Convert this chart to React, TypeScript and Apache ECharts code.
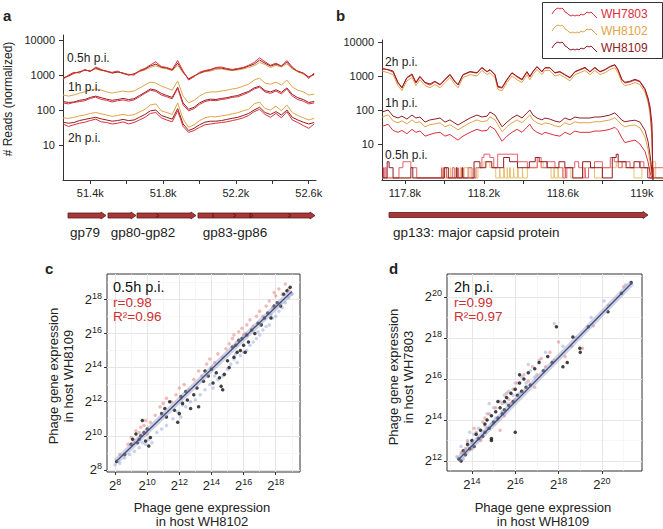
import React, { useEffect, useRef } from "react";
import * as echarts from "echarts";

const FONT = '"Liberation Sans", Arial, Helvetica, sans-serif';
const RED = "#dc2f3b";
const GOLD = "#dfa447";
const DARK = "#8e1d25";
const TEXT = "#222";
const STAT = "#cf3035";

// ---------- panel a: coverage around gp79-gp86 ----------
const posA = [51250,51280,51310,51340,51370,51400,51430,51460,51490,51520,51550,51580,51610,51640,51670,51700,51730,51760,51790,51820,51850,51880,51910,51940,51970,52000,52030,52060,52090,52120,52150,52180,52210,52240,52270,52300,52330,52360,52390,52420,52450,52480,52510,52540,52570,52600,52630];
const a05_WH7803 = [760,1000,1200,1150,1450,1250,1700,1450,1250,1200,1300,1100,1050,1000,1350,1550,1950,2400,1750,1650,1450,2600,1300,720,900,1200,1350,1450,1650,1700,1550,1450,1550,1650,1900,2300,3100,2400,1900,2200,1800,2600,1700,1250,1150,800,1150];
const a05_WH8102 = [850,920,1100,1250,1350,1350,1500,1350,1300,1150,1200,1150,1000,1100,1250,1400,1650,1850,1600,1500,1350,1900,1150,800,950,1100,1250,1300,1450,1500,1400,1350,1400,1500,1650,1850,2300,2000,1650,1900,1700,2100,1500,1250,1050,900,1000];
const a05_WH8109 = [820,940,1140,1230,1390,1300,1590,1390,1300,1140,1230,1140,1000,1070,1300,1480,1810,2060,1690,1590,1390,2190,1230,770,940,1140,1300,1390,1590,1590,1480,1390,1480,1590,1810,2060,2680,2190,1810,2060,1810,2350,1590,1300,1140,870,1070];
const a1_WH7803 = [160,150,165,175,185,215,235,200,190,170,185,195,180,195,240,300,370,340,270,240,210,420,140,95,110,145,175,190,185,200,210,230,240,275,320,400,450,330,300,350,290,400,250,200,180,150,160];
const a1_WH8102 = [270,250,270,305,330,370,400,370,330,305,330,350,330,350,425,520,630,590,485,425,370,680,250,160,190,250,305,330,330,350,370,400,425,485,550,720,820,590,550,630,520,720,455,370,330,270,285];
const a1_WH8109 = [175,165,170,190,200,230,250,225,205,190,200,215,200,210,260,320,400,370,300,260,230,450,160,105,120,160,190,205,200,215,225,245,260,300,340,430,480,360,330,380,320,430,280,225,200,165,175];
const a2_WH7803 = [40,34,38,42,45,50,55,46,44,40,42,46,40,44,52,62,80,85,60,52,46,95,34,23,26,32,38,40,42,44,46,50,54,60,70,90,105,75,62,80,60,90,52,44,36,30,40];
const a2_WH8102 = [60,58,62,68,72,80,85,78,72,66,70,75,70,74,88,105,140,150,95,85,75,160,55,32,38,50,60,65,64,68,72,78,84,95,105,150,170,110,100,130,95,140,85,70,60,52,58];
const a2_WH8109 = [45,42,44,50,54,58,62,56,52,48,50,54,50,52,62,75,95,100,70,62,55,110,40,26,30,38,45,48,48,50,54,58,62,70,80,100,120,85,75,90,72,100,62,52,45,40,44];

// ---------- panel b: coverage over gp133 ----------
const posB = [117685,117715,117740,117765,117785,117810,117836,117856,117876,117902,117927,117952,117978,118003,118028,118053,118069,118094,118130,118165,118190,118216,118231,118256,118271,118292,118317,118342,118368,118393,118418,118433,118448,118469,118494,118509,118534,118560,118585,118610,118636,118661,118686,118712,118737,118762,118788,118813,118838,118863,118879,118899,118914,118940,118965,118990,119016,119031,119041,119051,119056];
const b2_WH7803 = [1720,1500,1310,620,440,870,1070,620,930,620,540,670,540,760,1070,670,540,1070,1310,1220,1720,1310,1500,1070,470,440,760,1220,930,760,1310,930,1310,1840,1310,1720,1720,1220,1310,1070,870,1310,1500,1720,1310,1720,1310,1500,1840,2100,1500,760,620,670,760,670,390,200,100,21,0.9];
const b2_WH8102 = [1400,1250,1100,520,370,720,900,520,780,520,450,560,450,640,900,560,450,900,1100,1000,1450,1100,1250,900,400,370,640,1000,780,640,1100,780,1100,1550,1100,1450,1450,1000,1100,900,720,1100,1250,1450,1100,1450,1100,1250,1550,1750,1250,640,520,560,640,560,330,170,80,15,0.9];
const b2_WH8109 = [1600,1550,1400,650,460,900,1150,650,980,650,580,700,560,800,1120,700,560,1100,1350,1250,1800,1350,1550,1100,500,460,800,1250,980,800,1350,980,1350,1900,1350,1750,1750,1250,1350,1100,900,1350,1550,1800,1350,1800,1350,1550,1900,2150,1550,800,650,700,800,700,420,230,130,40,0.9];
const b1_WH7803 = [33,38,25,22,25,20,27,22,24,17,19,21,22,17,19,15,13,17,22,27,24,25,33,27,19,12,17,22,27,22,31,38,27,22,19,22,20,18,17,22,19,24,22,22,22,24,24,25,27,31,25,15,11,12,13,10,6,3,1.5,1,0.9];
const b1_WH8102 = [62,72,48,42,48,39,51,42,45,32,37,39,42,32,37,30,26,32,42,51,45,48,63,51,37,23,32,42,51,42,59,72,51,42,37,42,39,34,32,42,37,45,42,42,42,45,45,48,51,59,48,36,32,35,36,30,16,7,3,1.2,0.9];
const b1_WH8109 = [87,100,66,58,66,54,71,58,62,44,51,54,58,44,51,41,36,44,58,71,62,66,87,71,51,32,44,58,71,58,82,100,71,58,51,58,54,47,44,58,51,62,58,58,58,62,62,66,71,82,66,50,45,48,50,44,25,12,5,1.5,0.9];
const b05_WH7803 = [[117684,2],[117692,1],[117698,2],[117704,1],[117770,2],[117790,3],[117830,2],[117860,1],[117985,2],[117988,1],[117995,2],[118010,1],[118040,2],[118050,1],[118070,2],[118073,1],[118090,2],[118093,1],[118120,2],[118140,1],[118160,2],[118190,4],[118200,5],[118230,4],[118250,2],[118270,5],[118370,3],[118420,2],[118470,4],[118490,2],[118520,3],[118560,2],[118600,1],[118612,2],[118615,1],[118620,2],[118660,3],[118680,2],[118700,1],[118712,2],[118715,1],[118730,2],[118760,3],[118800,2],[118840,4],[118860,3],[118880,2],[118900,3],[118940,2],[118990,3],[119010,2],[119040,1],[119060,2],[119107,2]];
const b05_WH8102 = [[117684,1],[117990,2],[117993,1],[118010,2],[118013,1],[118030,2],[118033,1],[118060,2],[118064,1],[118080,2],[118084,1],[118100,2],[118130,1],[118150,2],[118154,1],[118170,2],[118200,3],[118230,2],[118260,1],[118280,2],[118283,1],[118300,2],[118304,1],[118318,2],[118321,1],[118330,2],[118334,1],[118350,2],[118353,1],[118370,2],[118374,1],[118395,2],[118398,1],[118420,2],[118470,3],[118500,2],[118540,1],[118555,2],[118558,1],[118575,2],[118578,1],[118600,2],[118640,1],[118700,2],[118760,1],[118800,2],[118870,3],[118900,2],[118960,1],[119000,2],[119050,3],[119070,1],[119107,1]];
const b05_WH8109 = [[117684,2],[117688,1],[117710,3],[117720,2],[117740,1],[117830,2],[117840,1],[118000,2],[118020,1],[118060,2],[118064,1],[118090,2],[118094,1],[118150,3],[118180,2],[118210,3],[118240,2],[118300,4],[118330,3],[118370,2],[118430,3],[118460,4],[118480,3],[118520,2],[118580,3],[118610,2],[118650,1],[118700,3],[118740,2],[118800,1],[118850,4],[118870,5],[118880,3],[118920,2],[118960,3],[118990,2],[119030,1],[119107,1]];

// ---------- panel c: log2 expression, WH8102 (x) vs WH8109 (y), 0.5h ----------
const cBlack = [[8.1,8.5],[8.6,8.9],[9.0,9.5],[9.1,9.8],[9.3,10.1],[9.4,9.6],[9.5,9.8],[9.6,10.0],[9.7,10.9],[9.8,10.2],[9.9,9.7],[10.0,10.4],[10.1,9.4],[10.2,9.9],[10.9,11.3],[11.1,11.6],[11.2,11.1],[11.4,12.0],[11.7,11.5],[11.9,10.8],[12.0,11.3],[12.1,12.3],[12.2,11.9],[12.4,12.6],[12.5,12.1],[12.7,11.6],[12.9,12.4],[13.1,12.8],[13.2,11.7],[13.5,13.2],[13.6,13.8],[13.8,13.5],[14.0,13.9],[14.1,13.1],[14.3,13.7],[14.5,13.4],[14.6,12.9],[14.7,12.7],[14.8,13.6],[15.0,14.4],[15.1,14.0],[15.3,15.2],[15.4,14.6],[15.5,15.3],[15.6,14.9],[15.7,15.6],[15.8,15.0],[15.9,15.7],[16.0,15.3],[16.1,14.9],[16.2,15.9],[16.3,15.5],[16.5,16.2],[16.7,16.0],[16.9,16.6],[17.1,16.5],[17.3,16.9],[17.5,17.2],[17.7,16.9],[17.9,17.6],[18.1,17.8],[18.3,17.6],[18.5,18.3],[18.7,18.5],[18.9,18.7]];
const cRed = [[8.3,8.9],[8.8,9.5],[9.0,9.9],[9.2,9.6],[9.3,10.3],[9.5,10.2],[9.6,10.5],[9.8,10.6],[10.0,10.1],[10.2,10.8],[10.5,11.2],[10.8,11.7],[11.2,12.2],[11.5,12.0],[11.8,12.4],[12.0,12.8],[12.3,13.0],[12.6,12.7],[12.9,13.3],[13.2,13.8],[13.4,13.5],[13.7,14.2],[13.9,14.5],[14.2,14.3],[14.4,14.8],[14.7,14.6],[14.9,15.1],[15.1,15.4],[15.3,15.7],[15.4,15.9],[15.6,15.5],[15.7,16.1],[15.9,16.3],[16.0,15.9],[16.2,16.5],[16.4,16.8],[16.6,16.4],[16.8,17.0],[17.0,17.3],[17.2,17.0],[17.4,17.6],[17.6,17.9],[17.8,17.5],[18.0,18.2],[18.2,18.6],[18.4,18.3],[18.6,18.9],[18.8,18.6],[12.1,12.2],[14.0,14.0],[16.1,16.0],[9.9,10.9],[11.0,11.9],[17.9,18.4]];
const cBlue = [[8.0,8.3],[8.3,8.4],[8.6,8.7],[8.9,8.9],[9.2,9.1],[9.5,9.3],[9.7,9.6],[9.9,9.5],[10.1,9.8],[10.3,9.6],[10.6,10.2],[10.9,10.4],[11.2,10.6],[11.6,11.0],[11.9,11.4],[12.1,11.1],[12.4,11.7],[12.7,12.0],[13.0,12.1],[13.3,12.4],[13.6,12.7],[13.9,13.0],[14.1,12.8],[14.4,13.3],[14.7,13.5],[15.0,13.9],[15.2,14.2],[15.4,14.5],[15.6,14.3],[15.8,14.7],[16.0,14.9],[16.2,15.0],[16.4,15.3],[16.6,15.5],[16.8,15.7],[17.0,15.9],[17.2,16.2],[17.4,16.4],[17.6,16.5],[17.8,16.9],[18.0,17.0],[18.2,17.3],[18.4,17.5],[18.6,17.8],[18.8,18.1],[19.0,18.3],[15.5,14.8],[16.9,16.1],[14.2,13.5],[12.2,11.8],[17.7,17.1],[18.3,17.8]];
const cFitX = [8.07, 19.0];
const cFitY = [8.5, 18.45];

// ---------- panel d: log2 expression, WH8109 (x) vs WH7803 (y), 2h ----------
const dBlack = [[13.4,12.1],[13.6,12.5],[13.7,12.3],[13.8,12.8],[13.9,12.6],[14.0,13.0],[14.1,12.7],[14.2,13.3],[14.3,13.1],[14.4,13.5],[14.5,13.2],[14.6,13.8],[14.6,13.4],[14.7,14.0],[14.8,13.6],[14.9,14.2],[14.9,13.1],[15.0,13.9],[15.1,14.4],[15.2,14.1],[15.3,14.6],[15.4,14.3],[15.5,14.9],[15.5,14.5],[15.6,15.1],[15.7,14.7],[15.8,15.3],[15.9,14.9],[16.0,15.5],[16.0,13.4],[16.1,15.2],[16.2,15.8],[16.3,15.4],[16.4,16.0],[16.5,15.6],[16.6,16.3],[16.7,15.7],[16.9,16.5],[17.1,16.8],[17.3,16.4],[17.5,17.1],[17.7,16.8],[17.9,18.55],[18.2,16.6],[18.4,16.8],[18.66,18.05],[18.98,17.5],[19.0,17.3],[19.37,18.55],[20.28,19.28],[20.9,20.18],[21.35,20.7],[14.9,13.0],[15.2,14.9],[16.2,16.2],[13.5,12.0]];
const dRed = [[13.5,12.4],[13.8,12.9],[14.0,12.6],[14.2,13.4],[14.4,13.0],[14.5,13.9],[14.7,13.6],[14.8,14.3],[15.0,13.8],[15.1,14.6],[15.2,14.0],[15.4,14.8],[15.5,14.2],[15.6,15.3],[15.8,14.8],[15.9,15.5],[16.0,15.0],[16.1,15.8],[16.3,15.4],[16.4,16.2],[16.6,15.9],[16.8,16.6],[17.0,16.2],[17.2,17.0],[17.4,16.6],[17.6,17.3],[17.8,16.9],[18.0,17.8],[18.3,17.1],[18.6,17.6],[19.1,17.5],[19.6,18.6],[20.3,19.6],[21.0,20.5],[14.1,13.6],[15.3,13.5],[14.6,14.1],[16.9,15.6],[13.7,12.6],[15.7,15.0]];
const dBlue = [[13.3,12.2],[13.5,12.7],[13.6,12.1],[13.8,13.0],[14.0,12.9],[14.1,13.3],[14.3,13.6],[14.4,13.1],[14.6,13.7],[14.7,14.3],[14.9,13.8],[15.0,14.6],[15.1,14.1],[15.3,14.9],[15.4,14.4],[15.6,14.8],[15.7,15.4],[15.9,15.2],[16.0,15.8],[16.2,15.3],[16.3,16.1],[16.5,15.8],[16.7,16.4],[16.9,16.1],[17.1,16.9],[17.4,17.3],[17.8,18.7],[18.2,17.6],[18.8,18.0],[19.5,19.0],[20.1,19.8],[21.1,20.6],[13.9,13.4],[15.5,15.2],[14.8,14.8],[16.6,16.7]];
const dFitX = [13.36, 21.38];
const dFitY = [12.05, 20.68];

// ---------- ticks ----------
const tickA = [51400,51600,51800,52000,52200,52400,52600];
const labelA = [51400,51800,52200,52600];
const tickB = [117800,118000,118200,118400,118600,118800,119000];
const labelB = [117800,118200,118600,119000];
const readTicks = [10,100,1000,10000];
const cMajor = [8,10,12,14,16,18];
const cMinor = [9,11,13,15,17,19];
const dMajorX = [14,16,18,20];
const dMinorX = [13,15,17,19,21];
const dMajorY = [12,14,16,18,20];
const dMinorY = [13,15,17,19,21];

const axisLineStyle = { color: "#333", width: 1 };

function trace(name: string, pos: number[], vals: number[], color: string, idx: number) {
  return {
    type: "line", name, xAxisIndex: idx, yAxisIndex: idx,
    data: pos.map((p, i) => [p, vals[i]]),
    showSymbol: false, symbol: "none", silent: true,
    lineStyle: { color, width: 1 }, itemStyle: { color },
  };
}
function stepTrace(name: string, data: number[][], color: string) {
  return {
    type: "line", name, xAxisIndex: 1, yAxisIndex: 1, step: "end", data,
    showSymbol: false, symbol: "none", silent: true,
    lineStyle: { color, width: 1 }, itemStyle: { color },
  };
}
function dots(data: number[][], color: string, size: number, idx: number) {
  return { type: "scatter", xAxisIndex: idx, yAxisIndex: idx, data, symbolSize: size, silent: true,
    itemStyle: { color }, z: 3 };
}
function fit(xs: number[], ys: number[], idx: number) {
  const data = xs.map((x, i) => [x, ys[i]]);
  return [
    { type: "line", xAxisIndex: idx, yAxisIndex: idx, data, symbol: "none", silent: true, z: 4,
      lineStyle: { color: "rgba(150,158,185,0.45)", width: 6 } },
    { type: "line", xAxisIndex: idx, yAxisIndex: idx, data, symbol: "none", silent: true, z: 5,
      lineStyle: { color: "#3e4c8a", width: 1.3 } },
  ];
}

const pow2 = (v: number) => `{b|2}{s|${Math.round(v)}}`;
const rich = {
  b: { fontSize: 13, color: TEXT, fontFamily: FONT, lineHeight: 16 },
  s: { fontSize: 9, color: TEXT, fontFamily: FONT, lineHeight: 8, verticalAlign: "top" },
};

function genomeX(grid: number, min: number, max: number, ticks: number[], labels: number[]) {
  return {
    gridIndex: grid, type: "value", min, max,
    axisLine: { show: true, onZero: false, lineStyle: axisLineStyle },
    axisTick: { show: true, length: 4, customValues: ticks, lineStyle: axisLineStyle },
    axisLabel: { customValues: labels, formatter: (v: number) => `${v / 1000}k`, fontSize: 11, color: TEXT, fontFamily: FONT, margin: 7 },
    splitLine: { show: false },
  };
}
function readsY(grid: number, min: number, max: number) {
  return {
    gridIndex: grid, type: "log", logBase: 10, min, max,
    axisLine: { show: true, onZero: false, lineStyle: axisLineStyle },
    axisTick: { show: true, length: 4, customValues: readTicks, lineStyle: axisLineStyle },
    axisLabel: { customValues: readTicks, formatter: (v: number) => String(Math.round(v)), fontSize: 11, color: TEXT, fontFamily: FONT, margin: 8 },
    splitLine: { show: false }, minorTick: { show: false },
  };
}
function expMajor(grid: number, min: number, max: number, ticks: number[]) {
  return {
    gridIndex: grid, type: "value", min, max,
    axisLine: { show: false, onZero: false },
    axisTick: { show: true, length: 3, customValues: ticks, lineStyle: axisLineStyle },
    axisLabel: { customValues: ticks, formatter: pow2, rich, margin: 5 },
    splitLine: { show: true, lineStyle: { color: "#e6e6e6", width: 1 } },
  };
}
function expMinor(grid: number, min: number, max: number, ticks: number[]) {
  return {
    gridIndex: grid, type: "value", min, max,
    axisLine: { show: false, onZero: false },
    axisTick: { show: false, customValues: ticks },
    axisLabel: { show: false },
    splitLine: { show: true, lineStyle: { color: "#f2f2f2", width: 0.6 } },
  };
}

function text(x: number, y: number, t: string, o: any = {}) {
  return {
    type: "text", x, y, silent: true, rotation: o.rotation || 0, z: 50,
    style: {
      text: t, fill: o.fill || TEXT, fontSize: o.fontSize || 12, fontFamily: FONT,
      fontWeight: o.fontWeight || "normal", textAlign: o.align || "left", textVerticalAlign: "middle",
    },
  };
}
function arrow(x0: number, x1: number, yc: number) {
  return {
    type: "polygon", silent: true,
    shape: { points: [[x0, yc - 2.5], [x1 - 5, yc - 2.5], [x1 - 5, yc - 3.5], [x1, yc], [x1 - 5, yc + 3.5], [x1 - 5, yc + 2.5], [x0, yc + 2.5]] },
    style: { fill: "#a83838", stroke: "#5e1a1a", lineWidth: 0.8 },
  };
}
function mark(points: number[][]) {
  return { type: "polyline", silent: true, shape: { points }, style: { stroke: "#4a1010", lineWidth: 0.8, fill: "none" } };
}
function wiggle(x: number, y: number, color: string) {
  const pts = [[0,1],[2,-2],[4,-4],[6,-5],[8,-4],[10,-5],[12,-3],[13,-1],[15,0],[17,2],[19,3],[21,2],[23,3],[25,2],[27,3],[29,1],[31,2],[33,1],[35,-1],[37,0],[39,-1],[41,1],[43,3],[45,5]];
  return { type: "polyline", silent: true, shape: { points: pts.map(([dx, dy]) => [x + dx, y + dy]) }, style: { stroke: color, lineWidth: 1, fill: "none" } };
}

function buildOption() {
  const series: any[] = [
    trace("WH8102", posA, a2_WH8102, GOLD, 0), trace("WH8109", posA, a2_WH8109, DARK, 0), trace("WH7803", posA, a2_WH7803, RED, 0),
    trace("WH8102", posA, a1_WH8102, GOLD, 0), trace("WH8109", posA, a1_WH8109, DARK, 0), trace("WH7803", posA, a1_WH7803, RED, 0),
    trace("WH8102", posA, a05_WH8102, GOLD, 0), trace("WH8109", posA, a05_WH8109, DARK, 0), trace("WH7803", posA, a05_WH7803, RED, 0),
    stepTrace("WH8102", b05_WH8102, "#e8c070"), stepTrace("WH7803", b05_WH7803, "#e2606a"), stepTrace("WH8109", b05_WH8109, DARK),
    trace("WH7803", posB, b1_WH7803, RED, 1), trace("WH8102", posB, b1_WH8102, GOLD, 1), trace("WH8109", posB, b1_WH8109, DARK, 1),
    trace("WH8102", posB, b2_WH8102, GOLD, 1), trace("WH7803", posB, b2_WH7803, RED, 1), trace("WH8109", posB, b2_WH8109, DARK, 1),
    dots(cBlue, "rgba(140,160,215,0.6)", 3.5, 2), dots(cRed, "rgba(232,110,110,0.6)", 3.5, 2), dots(cBlack, "#111", 3.5, 2),
    ...fit(cFitX, cFitY, 2),
    dots(dBlue, "rgba(140,160,215,0.6)", 3.5, 4), dots(dRed, "rgba(232,110,110,0.6)", 3.5, 4), dots(dBlack, "#111", 3.5, 4),
    ...fit(dFitX, dFitY, 4),
  ];

  const graphic: any[] = [
    text(3, 15, "a", { fontSize: 15, fontWeight: "bold" }),
    text(336, 15, "b", { fontSize: 15, fontWeight: "bold" }),
    text(45, 268, "c", { fontSize: 15, fontWeight: "bold" }),
    text(389, 268, "d", { fontSize: 15, fontWeight: "bold" }),
    text(8, 99, "# Reads (normalized)", { rotation: Math.PI / 2, align: "center" }),
    text(67, 58, "0.5h p.i."), text(68, 87, "1h p.i."), text(68, 138, "2h p.i."),
    text(385, 62, "2h p.i."), text(385, 103, "1h p.i."), text(385, 155, "0.5h p.i."),
    // legend
    { type: "rect", silent: true, shape: { x: 542.5, y: 2.5, width: 120, height: 56 }, style: { fill: "#fff", stroke: "#333", lineWidth: 1 } },
    wiggle(552, 13, RED), wiggle(552, 30, GOLD), wiggle(552, 47, DARK),
    text(601, 14, "WH7803", { fill: RED }), text(601, 31, "WH8102", { fill: GOLD }), text(601, 48, "WH8109", { fill: DARK }),
    // gene arrows
    arrow(68, 106, 215.5), arrow(108, 136, 215.5), arrow(137, 196, 215.5), arrow(198, 315, 215.5),
    mark([[156, 213.5], [159, 215.5], [156, 217.5]]), mark([[213, 213], [213, 218]]),
    mark([[233, 213.5], [236, 215.5], [233, 217.5]]), mark([[250, 213], [250, 218], [253, 215.5], [250, 213]]),
    mark([[288, 213.5], [291, 215.5], [288, 217.5]]),
    arrow(389, 648, 215),
    text(85, 232, "gp79", { align: "center", fontSize: 13.5 }),
    text(143, 232, "gp80-gp82", { align: "center", fontSize: 13.5 }),
    text(235, 232, "gp83-gp86", { align: "center", fontSize: 13.5 }),
    text(393, 232, "gp133: major capsid protein", { fontSize: 13.5 }),
    // scatter annotations
    text(113, 287, "0.5h p.i.", { fontSize: 14.5, fill: "#111" }),
    text(113, 302, "r=0.98", { fontSize: 13.5, fill: STAT }),
    text(113, 316, "R²=0.96", { fontSize: 13.5, fill: STAT }),
    text(454, 287, "2h p.i.", { fontSize: 14.5, fill: "#111" }),
    text(454, 302, "r=0.99", { fontSize: 13.5, fill: STAT }),
    text(454, 316, "R²=0.97", { fontSize: 13.5, fill: STAT }),
    // axis titles
    text(202, 507, "Phage gene expression", { align: "center", fontSize: 13 }),
    text(202, 521, "in host WH8102", { align: "center", fontSize: 13 }),
    text(543, 507, "Phage gene expression", { align: "center", fontSize: 13 }),
    text(543, 521, "in host WH8109", { align: "center", fontSize: 13 }),
    text(53, 376, "Phage gene expression", { align: "center", fontSize: 13, rotation: Math.PI / 2 }),
    text(68, 376, "in host WH8109", { align: "center", fontSize: 13, rotation: Math.PI / 2 }),
    text(393, 377, "Phage gene expression", { align: "center", fontSize: 13, rotation: Math.PI / 2 }),
    text(408, 377, "in host WH7803", { align: "center", fontSize: 13, rotation: Math.PI / 2 }),
  ];

  return {
    animation: false,
    backgroundColor: "#fff",
    textStyle: { fontFamily: FONT },
    grid: [
      { left: 63, top: 35, width: 253, height: 145 },
      { left: 382, top: 40, width: 281, height: 140 },
      { left: 107, top: 274, width: 193, height: 198, show: true, borderColor: "#333", borderWidth: 1 },
      { left: 447, top: 274, width: 195, height: 197, show: true, borderColor: "#333", borderWidth: 1 },
    ],
    xAxis: [
      genomeX(0, 51250, 52640, tickA, labelA),
      genomeX(1, 117684, 119107, tickB, labelB),
      expMajor(2, 7.5, 19.51, cMajor), expMinor(2, 7.5, 19.51, cMinor),
      expMajor(3, 12.85, 21.85, dMajorX), expMinor(3, 12.85, 21.85, dMinorX),
    ],
    yAxis: [
      readsY(0, 1, 14000),
      readsY(1, 0.87, 11450),
      expMajor(2, 7.88, 19.48, cMajor), expMinor(2, 7.88, 19.48, cMinor),
      expMajor(3, 11.51, 21.12, dMajorY), expMinor(3, 11.51, 21.12, dMinorY),
    ],
    series,
    graphic,
  };
}

export default function App() {
  const ref = useRef<HTMLDivElement>(null);
  useEffect(() => {
    const chart = echarts.init(ref.current!, null, { renderer: "svg" });
    chart.setOption(buildOption() as any);
    return () => chart.dispose();
  }, []);
  return <div ref={ref} style={{ position: "absolute", left: 0, top: 0, width: 663, height: 529, background: "#fff" }} />;
}
